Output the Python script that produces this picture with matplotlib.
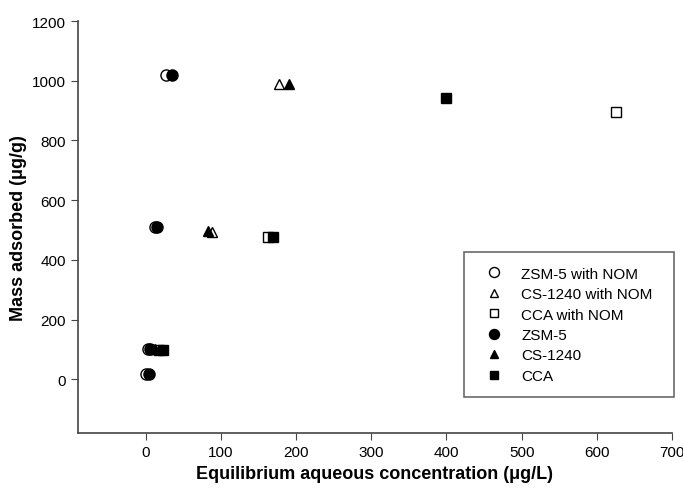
import matplotlib
matplotlib.use("Agg")
from matplotlib import pyplot as plt

plt.rcParams["font.family"] = ["Liberation Sans", "DejaVu Sans"]

# x: equilibrium aqueous concentration (ug/L), y: mass adsorbed (ug/g)
zsm_nom_x = [0, 3, 12, 27]
zsm_nom_y = [18, 103, 510, 1020]
cs_nom_x = [10, 89, 178]
cs_nom_y = [103, 495, 990]
cca_nom_x = [18, 163, 625]
cca_nom_y = [100, 478, 895]
zsm_x = [5, 6, 15, 35]
zsm_y = [18, 103, 510, 1020]
cs_x = [12, 83, 191]
cs_y = [103, 497, 988]
cca_x = [23, 169, 400]
cca_y = [100, 478, 942]

series = [
    ("ZSM-5 with NOM", zsm_nom_x, zsm_nom_y, "o", "white"),
    ("CS-1240 with NOM", cs_nom_x, cs_nom_y, "^", "white"),
    ("CCA with NOM", cca_nom_x, cca_nom_y, "s", "white"),
    ("ZSM-5", zsm_x, zsm_y, "o", "black"),
    ("CS-1240", cs_x, cs_y, "^", "black"),
    ("CCA", cca_x, cca_y, "s", "black"),
]

fig, ax = plt.subplots(figsize=(6.83, 4.89), dpi=100, facecolor="white")
fig.subplots_adjust(left=0.114, right=0.984, bottom=0.112, top=0.955)

for label, xs, ys, marker, face in series:
    size = 8 if marker == "o" else 7
    ax.plot(xs, ys, linestyle="none", marker=marker, markersize=size,
            markerfacecolor=face, markeredgecolor="black", markeredgewidth=1.0,
            label=label)

ax.set_xlim(-90, 700)
ax.set_ylim(-180, 1200)
ax.set_xticks(range(0, 701, 100))
ax.set_yticks(range(0, 1201, 200))
ax.spines["top"].set_visible(False)
ax.spines["right"].set_visible(False)
for side in ("left", "bottom"):
    ax.spines[side].set_color("#444444")
    ax.spines[side].set_linewidth(1.2)
ax.tick_params(axis="both", labelsize=11, direction="out", length=5, color="#444444")
ax.set_xlabel("Equilibrium aqueous concentration (\u03bcg/L)", fontsize=13, fontweight="bold")
ax.set_ylabel("Mass adsorbed (\u03bcg/g)", fontsize=13, fontweight="bold")

leg = ax.legend(loc="lower left", bbox_to_anchor=(0.650, 0.087, 0.353, 0.35),
                mode="expand", borderaxespad=0, fontsize=11,
                frameon=True, fancybox=False, edgecolor="#444444",
                handletextpad=0.8, borderpad=0.95, labelspacing=0.42, markerscale=0.9)
leg.get_frame().set_linewidth(1.2)

fig.savefig("out.png", dpi=100, facecolor="white")
